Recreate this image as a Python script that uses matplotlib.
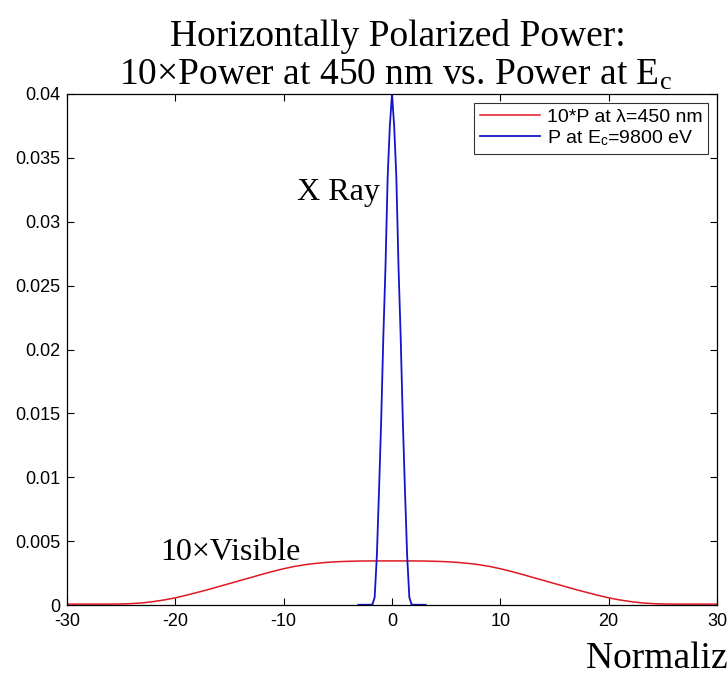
import numpy as np
import matplotlib
matplotlib.use("Agg")
import matplotlib.pyplot as plt

# ---- data ----
red_abs_x = [0, 1, 2, 3, 4, 5, 6, 7, 8, 9, 10, 11, 12, 13, 14, 15, 16, 17, 18, 19,
             20, 21, 22, 23, 24, 25, 26, 27, 28, 29, 30]
red_abs_y = [0.00345, 0.00345, 0.00345, 0.00344, 0.00342, 0.00339, 0.00334, 0.00326,
             0.00316, 0.00302, 0.00284, 0.00263, 0.00240, 0.00216, 0.00192, 0.00168,
             0.00144, 0.00120, 0.00098, 0.00076, 0.00056, 0.00040, 0.00027, 0.00017,
             0.00011, 0.00008, 0.00007, 0.00007, 0.00007, 0.00007, 0.00007]

blue_abs_x = [0.0, 0.2, 0.4, 0.6, 0.8, 1.0, 1.2, 1.4, 1.6, 1.8, 2.0, 2.4, 2.8, 3.1]
blue_abs_y = [0.0400, 0.0375, 0.0335, 0.0265, 0.0210, 0.0144, 0.0089, 0.0038,
              0.0006, 0.00005, 0.00002, 0.00002, 0.00002, 0.00002]

red_x = [-v for v in red_abs_x[::-1]] + red_abs_x[1:]
red_y = red_abs_y[::-1] + red_abs_y[1:]
blue_x = [-v for v in blue_abs_x[::-1]] + blue_abs_x[1:]
blue_y = blue_abs_y[::-1] + blue_abs_y[1:]

xticks = [-30, -20, -10, 0, 10, 20, 30]
yticks = [0, 0.005, 0.01, 0.015, 0.02, 0.025, 0.03, 0.035, 0.04]
ytick_labels = ["0", "0.005", "0.01", "0.015", "0.02", "0.025", "0.03", "0.035", "0.04"]

plt.rcParams['mathtext.fontset'] = 'custom'
plt.rcParams['mathtext.rm'] = 'Liberation Serif'
plt.rcParams['mathtext.it'] = 'Liberation Serif'

W, H = 727, 680
fig = plt.figure(figsize=(W / 100, H / 100), dpi=100)
ax = fig.add_axes([67 / W, 1 - 605 / H, 650 / W, 511 / H])

ax.plot(red_x, red_y, color='#e01822', lw=1.1, label=r'10*P at λ=450 nm')
ax.plot(blue_x, blue_y, color='#1414c8', lw=1.3,
        label=r'P at E$_\mathregular{c}$=9800 eV')

ax.set_xlim(-30, 30)
ax.set_ylim(0, 0.04)
ax.set_xticks(xticks)
ax.set_xticklabels([str(v) for v in xticks])
ax.set_yticks(yticks)
ax.set_yticklabels(ytick_labels)
ax.tick_params(direction='in', length=5, width=0.8, top=True, right=True,
               labelsize=13)
ax.tick_params(axis='x', pad=6)
ax.tick_params(axis='y', pad=5)
for lab in ax.get_xticklabels() + ax.get_yticklabels():
    lab.set_fontfamily('Liberation Sans')
for s in ax.spines.values():
    s.set_linewidth(0.9)

leg = ax.legend(loc='upper right', frameon=True, fancybox=False,
                edgecolor='black', borderaxespad=0.45, handlelength=3.1,
                labelspacing=0.1, borderpad=0.3, handletextpad=0.35,
                prop={'family': 'Liberation Sans', 'size': 14})
leg.get_frame().set_linewidth(0.8)

serif = 'Liberation Serif'
ax.text(-1.1, 0.0317, 'X Ray', fontsize=23, family=serif, ha='right', va='baseline')
ax.text(-21.4, 0.00352, '10×Visible', fontsize=23, family=serif, ha='left',
        va='baseline')

fig.text(398 / W, 1 - 46 / H, 'Horizontally Polarized Power:', fontsize=27,
         family=serif, ha='center', va='baseline')
fig.text(396 / W, 1 - 85 / H, r'10×Power at 450 nm vs. Power at E$_\mathregular{c}$',
         fontsize=27, family=serif, ha='center', va='baseline')
fig.text(586 / W, 1 - 668 / H, 'Normalized Angle', fontsize=27, family=serif,
         ha='left', va='baseline')

fig.savefig('out.png', dpi=100)
